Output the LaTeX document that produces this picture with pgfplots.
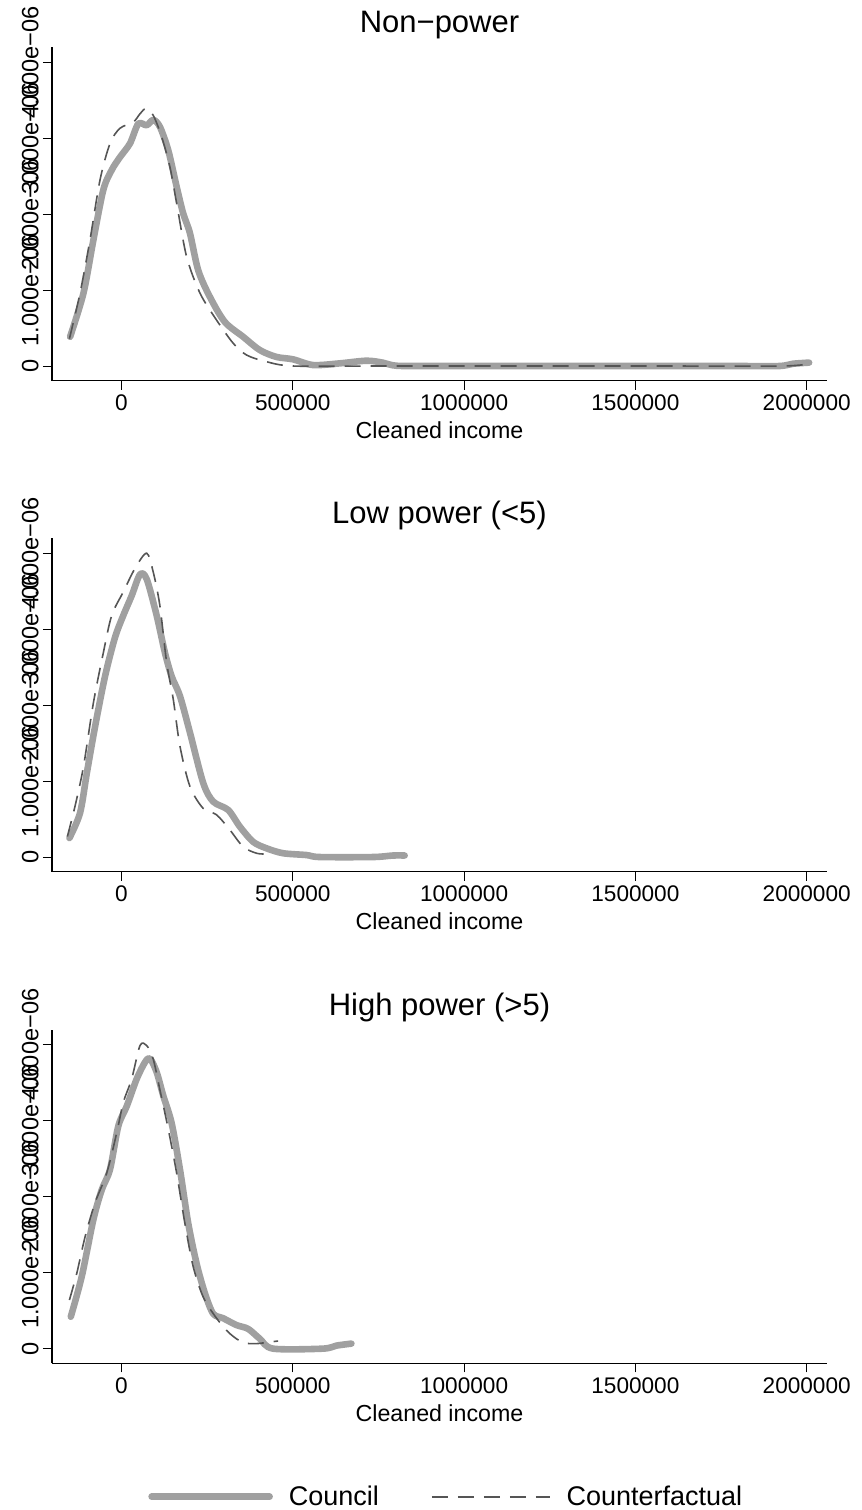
\documentclass[border=0pt]{standalone}
\usepackage{fontspec}
\setmainfont{Liberation Sans}
\usepackage{pgfplots}
\pgfplotsset{compat=1.18}
\definecolor{council}{RGB}{160,160,160}
\definecolor{cf}{RGB}{85,85,85}
\pgfplotsset{panel/.style={
  scale only axis, width=387.5pt, height=166.85pt,
  xmin=-202860, xmax=2059250, ymin=-0.193, ymax=4.2,
  axis lines=left, axis line style={-, line width=0.6pt, black},
  tick align=outside, major tick length=4.5pt,
  every tick/.style={line width=0.5pt, black},
  minor tick num=0, scaled x ticks=false, scaled y ticks=false,
  xtick={0,500000,1000000,1500000,2000000},
  xticklabels={0,500000,1000000,1500000,2000000},
  ytick={0,1,2,3,4},
  yticklabels={0,1.000e−06,2.000e−06,3.000e−06,4.000e−06},
  ticklabel style={font=\fontsize{11.3}{13}\selectfont},
  yticklabel style={font=\fontsize{11.8}{13}\selectfont, xshift=-2pt, rotate=90, anchor=south, inner sep=0pt},
  xticklabel style={anchor=north, inner sep=0pt, yshift=-2.5pt},
  xlabel={Cleaned income},
  xlabel style={font=\fontsize{11.6}{13}\selectfont, at={(axis description cs:0.5,0)}, anchor=base, yshift=-29pt},
  title style={font=\fontsize{15.5}{18}\selectfont, anchor=base, at={(axis description cs:0.5,1)}, yshift=1pt},
  clip=false,
  counc/.style={color=council, line width=3.3pt, line join=round, line cap=round, smooth},
  cfac/.style={color=cf, line width=0.8pt, dash pattern=on 8pt off 5pt, smooth},
}}
\begin{document}
\begin{tikzpicture}
\useasboundingbox (0,0) rectangle (431pt,755pt);
% Panel 1
\begin{axis}[panel, at={(26pt,564.65pt)}, anchor=south west, title={Non−power}]
\addplot[counc] coordinates {
(-150000,0.385) (-111000,0.96) (-82000,1.66) (-53000,2.32) (-28600,2.58) (-4400,2.75)
(24800,2.93) (49000,3.19) (73500,3.17) (92700,3.24) (112000,3.15) (136500,2.84)
(161000,2.36) (180000,2.01) (199700,1.75) (224000,1.26) (258000,0.91) (301700,0.58)
(355000,0.385) (403800,0.21) (452000,0.12) (501000,0.088) (559000,0.013) (637000,0.035)
(715000,0.07) (763000,0.044) (802000,0.004) (900000,0.0) (1200000,0.0) (1500000,0.0)
(1800000,0.0) (1920000,0.0) (1960000,0.03) (2007000,0.045)};
\addplot[cfac] coordinates {
(-152000,0.36) (-121000,0.96) (-92000,1.66) (-62700,2.45) (-33500,2.93) (-4400,3.13)
(34400,3.21) (54000,3.32) (71400,3.39) (92700,3.30) (117000,3.02) (141400,2.62)
(161000,2.14) (190000,1.44) (229000,0.96) (277500,0.605) (326000,0.30) (365000,0.145)
(423000,0.057) (501000,0.0) (733000,0.0) (1000000,0.0) (1300000,0.0) (1600000,0.0)
(1930000,0.0) (2015000,0.035)};
\end{axis}
% Panel 2
\begin{axis}[panel, at={(26pt,319.15pt)}, anchor=south west, title={Low power (<5)}]
\addplot[counc] coordinates {
(-152000,0.25) (-121000,0.58) (-101000,1.11) (-77000,1.72) (-48000,2.38) (-19000,2.89)
(5200,3.18) (29700,3.44) (54000,3.72) (73500,3.66) (102600,3.18) (126800,2.69)
(146300,2.38) (170600,2.12) (199700,1.64) (238500,0.975) (267600,0.73) (311400,0.62)
(345500,0.40) (384300,0.20) (423300,0.115) (471700,0.05) (540000,0.026) (578700,0.0)
(734000,0.0) (792000,0.02) (826500,0.02)};
\addplot[cfac] coordinates {
(-158000,0.27) (-135600,0.67) (-111000,1.19) (-82000,2.03) (-53000,2.69) (-28600,3.18)
(5200,3.49) (39400,3.80) (73500,4.0) (92700,3.75) (112000,3.31) (131800,2.56)
(151000,2.08) (170600,1.46) (199700,0.93) (238500,0.64) (277500,0.556) (316300,0.357)
(355000,0.136) (394000,0.05) (423000,0.04)};
\end{axis}
% Panel 3
\begin{axis}[panel, at={(26pt,73.35pt)}, anchor=south west, title={High power (>5)},
  legend style={at={(axis description cs:0.51,-0.4)}, anchor=center, draw=none,
    font=\fontsize{13.5}{15}\selectfont, legend columns=2,
    /tikz/every odd column/.append style={column sep=6pt},
    /tikz/every even column/.append style={column sep=24pt}},
  legend image code/.code={\draw[#1] (0pt,0pt) -- (59pt,0pt);}]
\addplot[counc] coordinates {
(-148000,0.42) (-116000,0.95) (-82000,1.70) (-57700,2.09) (-33500,2.36) (-9300,2.93)
(15200,3.19) (44300,3.55) (68500,3.77) (83000,3.82) (102600,3.64) (121900,3.33)
(146300,2.97) (170600,2.36) (194800,1.65) (219200,1.12) (243400,0.73) (267600,0.46)
(296800,0.40) (335800,0.31) (369700,0.26) (403800,0.13) (442600,0.0) (588000,0.0)
(627400,0.04) (671000,0.066)};
\addlegendentry{Council}
\addplot[cfac] coordinates {
(-152000,0.64) (-130600,0.99) (-106400,1.47) (-77300,1.92) (-43200,2.31) (-14000,2.84)
(5200,3.24) (29700,3.55) (54000,3.99) (73500,3.99) (92700,3.81) (112000,3.41)
(136500,2.89) (161000,2.31) (185000,1.65) (209300,1.08) (238500,0.68) (277500,0.40)
(316300,0.198) (355000,0.08) (394000,0.066) (433000,0.088) (457000,0.10)};
\addlegendentry{Counterfactual}
\end{axis}
\end{tikzpicture}
\end{document}
